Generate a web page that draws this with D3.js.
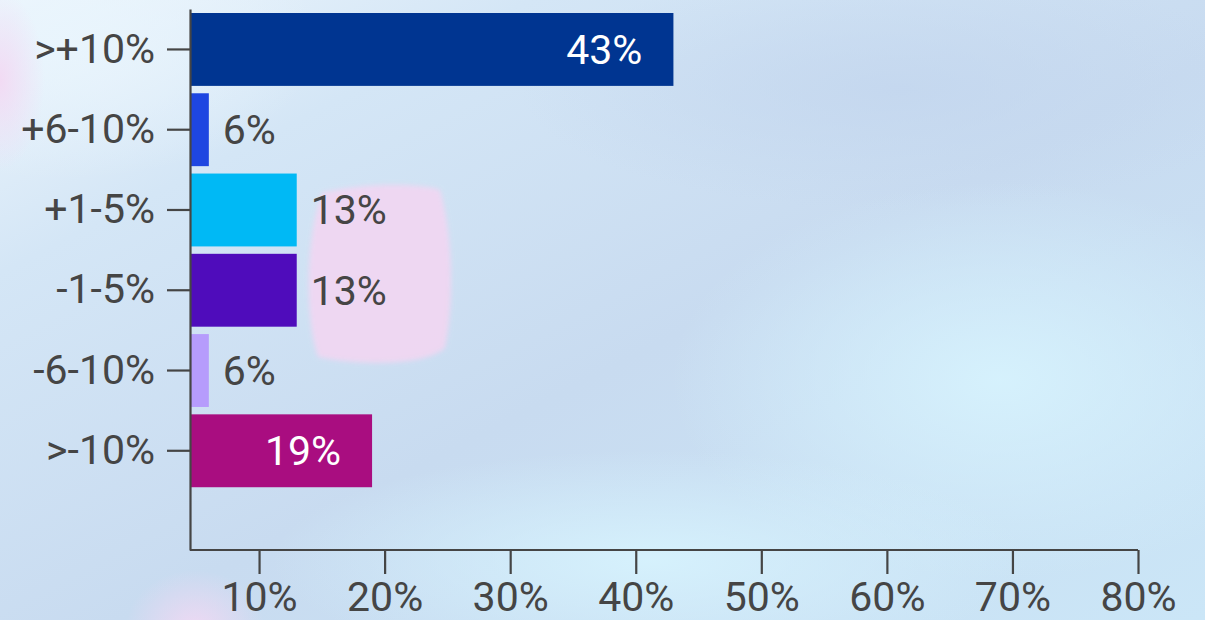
<!DOCTYPE html>
<html>
<head>
<meta charset="utf-8">
<script src="https://cdn.jsdelivr.net/npm/d3@7"></script>
<style>
  html, body { margin: 0; padding: 0; background: #c9dcef; }
  svg { display: block; font-family: Roboto, "Noto Sans", sans-serif; }
</style>
</head>
<body>
<svg id="chart" width="1205" height="620"></svg>
<script>
// Share of responses per change bucket
const categories = [">+10%", "+6-10%", "+1-5%", "-1-5%", "-6-10%", ">-10%"];
const shares = [43, 6, 13, 13, 6, 19];
const barColors = ["#003591", "#1e46e1", "#00b9f5", "#4f0cbb", "#b69cfc", "#a90d80"];
const xTicks = [10, 20, 30, 40, 50, 60, 70, 80];
const xDomain = [4.5, 80];

const W = 1205, H = 620;
const margin = { left: 190, right: 67, top: 9, bottom: 70 };
const svg = d3.select("#chart");

// ---- soft pastel backdrop ----
const defs = svg.append("defs");
const base = defs.append("linearGradient").attr("id", "bgBase")
  .attr("x1", "0").attr("y1", "0").attr("x2", "1").attr("y2", "1");
base.append("stop").attr("offset", "0").attr("stop-color", "#eef6fc");
base.append("stop").attr("offset", "0.22").attr("stop-color", "#d4e6f6");
base.append("stop").attr("offset", "0.55").attr("stop-color", "#c8dbf0");
base.append("stop").attr("offset", "1").attr("stop-color", "#cbe6f7");

function radial(id, color, opacity) {
  const g = defs.append("radialGradient").attr("id", id);
  g.append("stop").attr("offset", "0").attr("stop-color", color).attr("stop-opacity", opacity);
  g.append("stop").attr("offset", "1").attr("stop-color", color).attr("stop-opacity", 0);
}
radial("glowCyan", "#d6f2fd", 0.95);
radial("glowLight", "#e9f5fd", 0.9);
radial("glowPink", "#f3d8f3", 0.9);
radial("glowBlue", "#c3d6ee", 0.8);

defs.append("filter").attr("id", "soft").attr("x", "-20%").attr("y", "-20%")
  .attr("width", "140%").attr("height", "140%")
  .append("feGaussianBlur").attr("stdDeviation", 2.5);

const bg = svg.append("g");
bg.append("rect").attr("width", W).attr("height", H).attr("fill", "url(#bgBase)");
bg.append("ellipse").attr("cx", 1000).attr("cy", 380).attr("rx", 330).attr("ry", 200).attr("fill", "url(#glowCyan)");
bg.append("ellipse").attr("cx", 650).attr("cy", 560).attr("rx", 380).attr("ry", 110).attr("fill", "url(#glowCyan)");
bg.append("ellipse").attr("cx", 60).attr("cy", 40).attr("rx", 260).attr("ry", 140).attr("fill", "url(#glowLight)");
bg.append("ellipse").attr("cx", 900).attr("cy", 90).attr("rx", 380).attr("ry", 120).attr("fill", "url(#glowBlue)");
bg.append("ellipse").attr("cx", 0).attr("cy", 80).attr("rx", 45).attr("ry", 90).attr("fill", "url(#glowPink)");
bg.append("ellipse").attr("cx", 195).attr("cy", 630).attr("rx", 70).attr("ry", 60).attr("fill", "url(#glowPink)");
bg.append("path")
  .attr("d", "M322,193 C360,183 420,183 440,190 C452,230 455,300 445,348 C425,366 360,366 318,357 C305,320 305,240 322,193 Z")
  .attr("fill", "#f0d7f2").attr("opacity", 0.95).attr("filter", "url(#soft)");

// ---- scales ----
const x = d3.scaleLinear().domain(xDomain).range([margin.left, W - margin.right]);
const y = d3.scaleBand().domain(categories)
  .range([margin.top, H - margin.bottom])
  .paddingInner(0.092).paddingOuter(0.416).align(0.06);

const axisColor = "#454545";
const fontSize = 41;

// ---- bars ----
const data = categories.map((c, i) => ({ cat: c, v: shares[i], color: barColors[i] }));
const g = svg.append("g");
g.selectAll("rect.bar").data(data).join("rect")
  .attr("class", "bar")
  .attr("x", x(xDomain[0]))
  .attr("y", d => y(d.cat))
  .attr("width", d => x(d.v) - x(xDomain[0]))
  .attr("height", y.bandwidth())
  .attr("fill", d => d.color);

// value labels: inside long bars, outside short ones
g.selectAll("text.val").data(data).join("text")
  .attr("class", "val")
  .attr("x", d => d.v >= 15 ? x(d.v) - 31 : x(d.v) + 14)
  .attr("y", d => y(d.cat) + y.bandwidth() / 2)
  .attr("dy", "0.35em")
  .attr("text-anchor", d => d.v >= 15 ? "end" : "start")
  .attr("fill", d => d.v >= 15 ? "#ffffff" : axisColor)
  .attr("font-size", fontSize)
  .text(d => d.v + "%");

// ---- axes ----
const xAxis = svg.append("g")
  .attr("transform", `translate(0,${H - margin.bottom})`)
  .call(d3.axisBottom(x).tickValues(xTicks).tickFormat(d => d + "%")
    .tickSize(24).tickSizeOuter(0).tickPadding(8));

const yAxis = svg.append("g")
  .attr("transform", `translate(${margin.left},0)`)
  .call(d3.axisLeft(y).tickSize(23).tickSizeOuter(0).tickPadding(12));

[xAxis, yAxis].forEach(a => {
  a.select(".domain").attr("stroke", axisColor).attr("stroke-width", 2.2);
  a.selectAll(".tick line").attr("stroke", axisColor).attr("stroke-width", 2.2);
  a.selectAll(".tick text").attr("fill", axisColor).attr("font-size", fontSize)
    .attr("font-family", "Roboto, 'Noto Sans', sans-serif");
});
// the x-axis line starts at the y-axis, not before it
xAxis.select(".domain").attr("d", `M${x(xDomain[0])},0H${x(xDomain[1])}`);
</script>
</body>
</html>
